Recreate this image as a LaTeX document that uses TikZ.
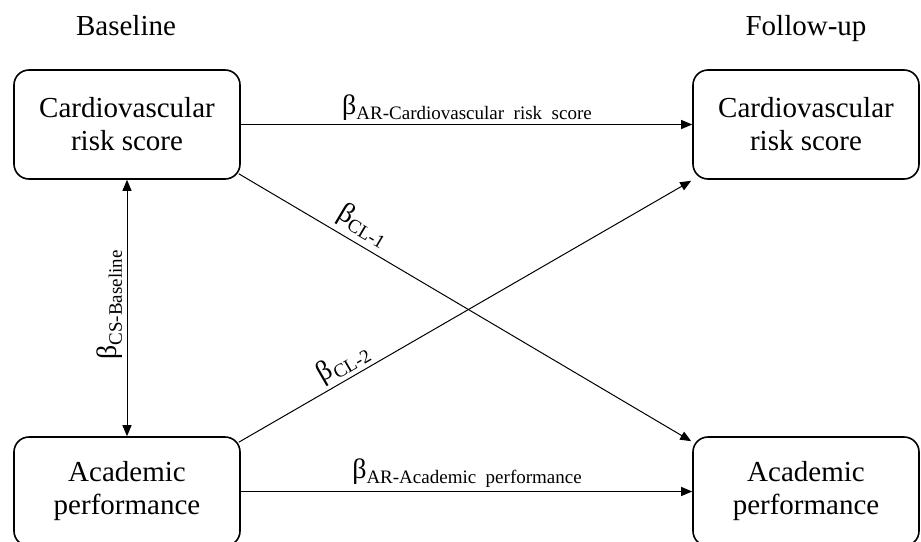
\documentclass[tikz,border=0pt]{standalone}
\usepackage{fontspec}
\setmainfont{Liberation Serif}
\usetikzlibrary{arrows.meta,calc}
\tikzset{
  boxnode/.style={draw, line width=1.6pt, rounded corners=15pt, minimum width=226pt, minimum height=109pt, inner sep=0pt, align=center, font=\fontsize{29}{33}\selectfont},
  headtext/.style={anchor=base, font=\fontsize{29}{33}\selectfont},
  conn/.style={line width=1pt, -{Triangle[length=11pt,width=9pt]}},
  beta/.style={inner sep=0pt, font=\fontsize{28}{30}\selectfont}
}
\newcommand{\bsub}[1]{β\raisebox{-5pt}{\fontsize{19}{20}\selectfont #1}}
\begin{document}
\begin{tikzpicture}[x=1pt,y=-1pt]
\useasboundingbox (0,0) rectangle (921,541);
\clip (0,0) rectangle (921,541);
\fill[white] (0,0) rectangle (921,541);
\node[headtext] (hb) at (126,35) {Baseline};
\node[headtext] (hf) at (806,35) {Follow-up};
\node[boxnode] (tl) at (127,124.5) {Cardiovascular\\risk score};
\node[boxnode] (tr) at (806,124.5) {Cardiovascular\\risk score};
\node[boxnode] (bl) at (127,491.5) {Academic\\performance};
\node[boxnode] (br) at (806,491.5) {Academic\\performance};
\draw[conn] (tl.east) -- (tr.west);
\draw[conn] (bl.east) -- (br.west);
\draw[line width=1pt, {Triangle[length=11pt,width=9pt]}-{Triangle[length=11pt,width=9pt]}] (tl.south) -- (bl.north);
\coordinate (a1) at ($(tl.south east)+(-2,-6)$);
\coordinate (b1) at ($(br.north west)+(-1,5)$);
\coordinate (a2) at ($(bl.north east)+(-2,6)$);
\coordinate (b2) at ($(tr.south west)+(-1,1)$);
\draw[conn] (a1) -- (b1);
\draw[conn] (a2) -- (b2);
\node[beta] (l1) at (467,108) {\bsub{AR-Cardiovascular\ \ risk\ \ score}};
\node[beta] (l2) at (467,473) {\bsub{AR-Academic\ \ performance}};
\node[beta, rotate=90] (l3) at (110,305) {\bsub{CS-Baseline}};
\node[beta, rotate=-30.6] (l4) at (363,225) {\bsub{CL-1}};
\node[beta, rotate=30.1] (l5) at (343,363) {\bsub{CL-2}};
\end{tikzpicture}
\end{document}
